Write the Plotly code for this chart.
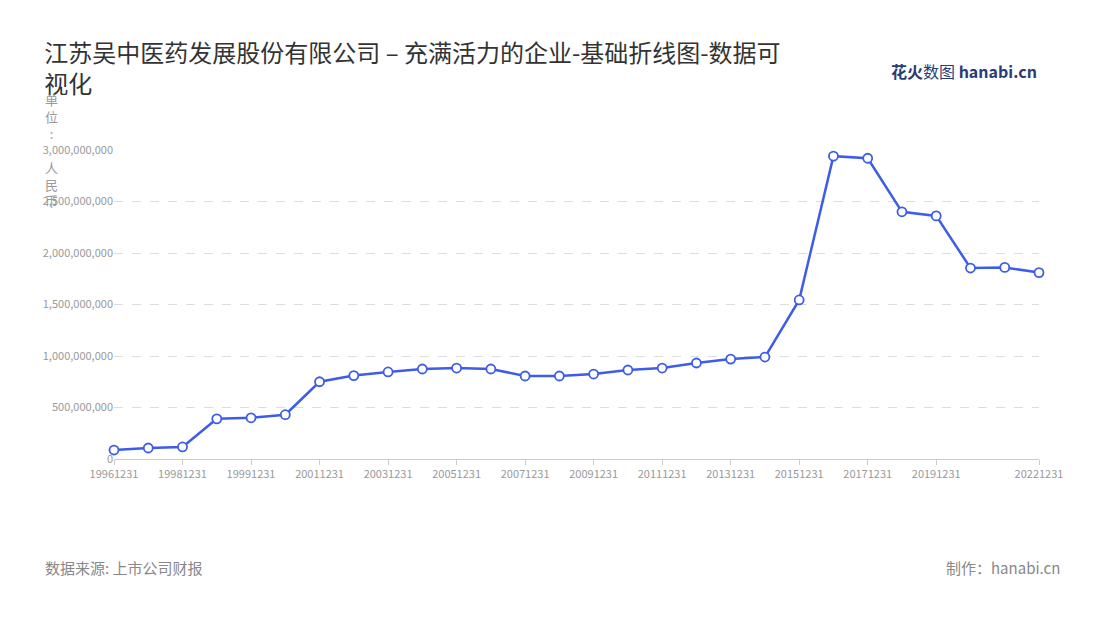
import plotly.graph_objects as go

dates = ["19961231", "19971231", "19981231", "19990630", "19991231", "20001231", "20011231",
         "20021231", "20031231", "20041231", "20051231", "20061231", "20071231", "20081231",
         "20091231", "20101231", "20111231", "20121231", "20131231", "20141231", "20151231",
         "20161231", "20171231", "20181231", "20191231", "20201231", "20211231", "20221231"]
revenue = [0.087e9, 0.107e9, 0.117e9, 0.39e9, 0.40e9, 0.43e9, 0.75e9, 0.81e9, 0.845e9,
           0.874e9, 0.883e9, 0.874e9, 0.806e9, 0.806e9, 0.825e9, 0.864e9, 0.883e9,
           0.932e9, 0.97e9, 0.99e9, 1.544e9, 2.94e9, 2.92e9, 2.40e9, 2.36e9, 1.854e9,
           1.86e9, 1.81e9]
tick_dates = dates[0:25:2] + [dates[-1]]
y_ticks = [0, 500e6, 1000e6, 1500e6, 2000e6, 2500e6, 3000e6]

fig = go.Figure()
fig.add_trace(go.Scatter(
    x=list(range(len(dates))), y=revenue, mode="lines+markers",
    line=dict(color="#3d5ce8", width=2.5),
    marker=dict(size=9, color="white", line=dict(color="#3d5ce8", width=1.8)),
    cliponaxis=False, showlegend=False,
))

fig.update_layout(
    width=1100, height=620,
    paper_bgcolor="white", plot_bgcolor="white",
    margin=dict(l=106, r=69, t=142, b=169),
    font=dict(family="Noto Sans CJK SC", color="#999"),
    title=dict(text="江苏吴中医药发展股份有限公司 – 充满活力的企业-基础折线图-数据可<br>视化",
               x=0.033, xanchor="left", y=0.913, yanchor="top",
               font=dict(size=24, color="#333")),
    xaxis=dict(range=[0, len(dates) - 1],
               tickvals=[dates.index(d) for d in tick_dates], ticktext=tick_dates,
               showgrid=False, showline=True, linecolor="#ccc",
               ticks="outside", tickcolor="#ccc", ticklen=5,
               tickfont=dict(size=11, color="#999"), zeroline=False),
    yaxis=dict(range=[0, 3000e6], tickvals=y_ticks,
               ticktext=[f"{v:,.0f}" for v in y_ticks],
               showgrid=True, gridcolor="#ddd", griddash="dash", zeroline=False,
               tickfont=dict(size=11, color="#999")),
)
fig.add_annotation(text="单<br>位<br>:<br><br>人<br>民<br>币", xref="paper", yref="paper",
                   x=-0.068, y=1.2, xanchor="center", yanchor="top", showarrow=False,
                   font=dict(size=13, color="#999"), align="center")
fig.add_annotation(text="数据来源: 上市公司财报", xref="paper", yref="paper",
                   x=-0.077, y=-0.35, xanchor="left", yanchor="middle", showarrow=False,
                   font=dict(size=15, color="#888"))
fig.add_annotation(text="制作：hanabi.cn", xref="paper", yref="paper",
                   x=1.025, y=-0.35, xanchor="right", yanchor="middle", showarrow=False,
                   font=dict(size=15, color="#888"))
fig.add_annotation(text="<b><span style='color:#2a3c74'>花火</span></b><span style='color:#2a3c74'>数图</span> "
                        "<b><span style='color:#2a3c74'>hanabi.cn</span></b>",
                   xref="paper", yref="paper", x=1.0, y=1.255, xanchor="right",
                   yanchor="middle", showarrow=False, font=dict(size=16))

fig.write_html("out.html")
